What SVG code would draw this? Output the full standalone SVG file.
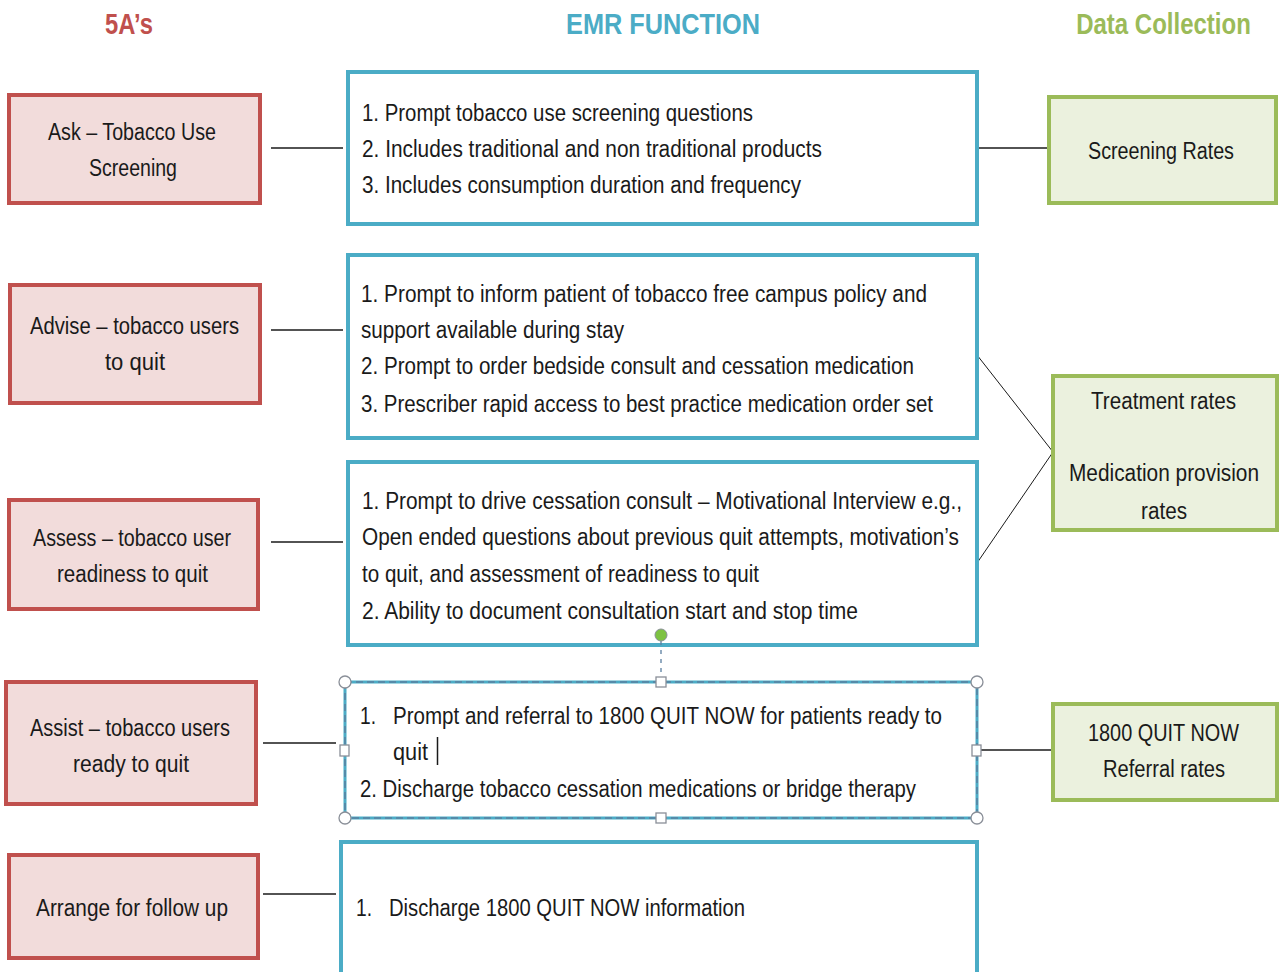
<svg xmlns="http://www.w3.org/2000/svg" width="1282" height="972" viewBox="0 0 1282 972">
<style>
.red{fill:#F2DCDB;stroke:#C0504D;stroke-width:4}
.blue{fill:#FFFFFF;stroke:#4BACC6;stroke-width:4}
.green{fill:#EBF1DE;stroke:#9BBB59;stroke-width:4}
.t{font-family:"Liberation Sans",Arial,sans-serif;font-size:23px;fill:#1a1a1a}
.h{font-family:"Liberation Sans",Arial,sans-serif;font-size:30px;font-weight:bold}
.c line{stroke:#1a1a1a;stroke-width:1.5}
.hdl{fill:#FFFFFF;stroke:#8a8f98;stroke-width:1.3}
</style>
<rect width="1282" height="972" fill="#FFFFFF"/>
<g id="headings">
<text class="h" x="105" y="34" fill="#C0504D" textLength="48" lengthAdjust="spacingAndGlyphs">5A’s</text>
<text class="h" x="566" y="34" fill="#4BACC6" textLength="194" lengthAdjust="spacingAndGlyphs">EMR FUNCTION</text>
<text class="h" transform="translate(1163.5,34) scale(0.8,1)" x="0" y="0" fill="#9BBB59" text-anchor="middle">Data Collection</text>
</g>
<g id="connectors" class="c">
<line x1="271" y1="148" x2="343" y2="148"/>
<line x1="271" y1="330" x2="343" y2="330"/>
<line x1="271" y1="542" x2="343" y2="542"/>
<line x1="263" y1="743" x2="336" y2="743"/>
<line x1="263" y1="894" x2="336" y2="894"/>
<line x1="977" y1="148" x2="1049" y2="148"/>
<line x1="977" y1="355" x2="1053" y2="452" style="stroke-width:1"/>
<line x1="977" y1="563" x2="1053" y2="452" style="stroke-width:1"/>
<line x1="977" y1="750" x2="1053" y2="750"/>
</g>
<g id="ask">
<rect class="red" x="9" y="95" width="251" height="108"/>
<text class="t" x="48" y="140" textLength="168" lengthAdjust="spacingAndGlyphs">Ask – Tobacco Use</text>
<text class="t" x="89" y="176" textLength="88" lengthAdjust="spacingAndGlyphs">Screening</text>
</g>
<g id="advise">
<rect class="red" x="10" y="285" width="250" height="118"/>
<text class="t" x="30" y="334" textLength="209" lengthAdjust="spacingAndGlyphs">Advise – tobacco users</text>
<text class="t" x="105" y="370" textLength="60" lengthAdjust="spacingAndGlyphs">to quit</text>
</g>
<g id="assess">
<rect class="red" x="9" y="500" width="249" height="109"/>
<text class="t" x="33" y="546" textLength="198" lengthAdjust="spacingAndGlyphs">Assess – tobacco user</text>
<text class="t" x="57" y="582" textLength="151" lengthAdjust="spacingAndGlyphs">readiness to quit</text>
</g>
<g id="assist">
<rect class="red" x="6" y="682" width="250" height="122"/>
<text class="t" x="30" y="736" textLength="200" lengthAdjust="spacingAndGlyphs">Assist – tobacco users</text>
<text class="t" x="73" y="772" textLength="116" lengthAdjust="spacingAndGlyphs">ready to quit</text>
</g>
<g id="arrange">
<rect class="red" x="9" y="855" width="249" height="103"/>
<text class="t" x="36" y="916" textLength="192" lengthAdjust="spacingAndGlyphs">Arrange for follow up</text>
</g>
<g id="emr1">
<rect class="blue" x="348" y="72" width="629" height="152"/>
<text class="t" x="362" y="121" textLength="391" lengthAdjust="spacingAndGlyphs">1. Prompt  tobacco use screening questions</text>
<text class="t" x="362" y="157" textLength="460" lengthAdjust="spacingAndGlyphs">2. Includes traditional and non traditional products</text>
<text class="t" x="362" y="193" textLength="439" lengthAdjust="spacingAndGlyphs">3. Includes consumption  duration  and frequency</text>
</g>
<g id="emr2">
<rect class="blue" x="348" y="255" width="629" height="183"/>
<text class="t" x="361" y="302" textLength="566" lengthAdjust="spacingAndGlyphs">1. Prompt  to inform patient of tobacco free campus policy and</text>
<text class="t" x="361" y="338" textLength="263" lengthAdjust="spacingAndGlyphs">support available during stay</text>
<text class="t" x="361" y="374" textLength="553" lengthAdjust="spacingAndGlyphs">2. Prompt  to order  bedside consult and cessation medication</text>
<text class="t" x="361" y="412" textLength="572" lengthAdjust="spacingAndGlyphs">3. Prescriber rapid access to best practice medication order set</text>
</g>
<g id="emr3">
<rect class="blue" x="348" y="462" width="629" height="183"/>
<text class="t" x="362" y="509" textLength="600" lengthAdjust="spacingAndGlyphs">1. Prompt  to drive cessation consult – Motivational Interview e.g.,</text>
<text class="t" x="362" y="545" textLength="597" lengthAdjust="spacingAndGlyphs">Open ended questions about previous quit attempts, motivation’s</text>
<text class="t" x="362" y="582" textLength="397" lengthAdjust="spacingAndGlyphs">to quit, and assessment of readiness to quit</text>
<text class="t" x="362" y="619" textLength="496" lengthAdjust="spacingAndGlyphs">2. Ability to document  consultation start and stop time</text>
</g>
<g id="emr4">
<rect x="345" y="682" width="632" height="136" fill="#FFFFFF" stroke="#4BACC6" stroke-width="3"/>
<rect x="345" y="682" width="632" height="136" fill="none" stroke="#5a7fa0" stroke-width="1.5" stroke-dasharray="7,4"/>
<text class="t" x="360" y="724" textLength="16" lengthAdjust="spacingAndGlyphs">1.</text>
<text class="t" x="393" y="724" textLength="549" lengthAdjust="spacingAndGlyphs">Prompt  and referral to 1800 QUIT NOW for patients ready to</text>
<text class="t" x="393" y="760" textLength="35" lengthAdjust="spacingAndGlyphs">quit</text>
<line x1="437.5" y1="737" x2="437.5" y2="765" stroke="#1a1a1a" stroke-width="1.5"/>
<text class="t" x="360" y="797" textLength="556" lengthAdjust="spacingAndGlyphs">2. Discharge tobacco cessation medications or bridge therapy</text>
<line x1="661" y1="641" x2="661" y2="677" stroke="#5a7fa0" stroke-width="1.3" stroke-dasharray="4,5"/>
<circle cx="661" cy="635" r="6" fill="#7DC242" stroke="#8a8f98" stroke-width="1"/>
<circle class="hdl" cx="345" cy="682" r="6"/>
<circle class="hdl" cx="977" cy="682" r="6"/>
<circle class="hdl" cx="345" cy="818" r="6"/>
<circle class="hdl" cx="977" cy="818" r="6"/>
<rect class="hdl" x="656" y="677" width="10" height="10"/>
<rect class="hdl" x="656" y="813" width="10" height="10"/>
<rect class="hdl" x="340" y="745" width="9" height="11"/>
<rect class="hdl" x="972" y="745" width="9" height="11"/>
</g>
<g id="emr5">
<rect class="blue" x="341" y="842" width="636" height="136"/>
<text class="t" x="356" y="916" textLength="16" lengthAdjust="spacingAndGlyphs">1.</text>
<text class="t" x="389" y="916" textLength="356" lengthAdjust="spacingAndGlyphs">Discharge 1800 QUIT NOW information</text>
</g>
<g id="screening">
<rect class="green" x="1049" y="97" width="227" height="106"/>
<text class="t" x="1088" y="159" textLength="146" lengthAdjust="spacingAndGlyphs">Screening Rates</text>
</g>
<g id="treatment">
<rect class="green" x="1053" y="376" width="224" height="154"/>
<text class="t" x="1091" y="409" textLength="145" lengthAdjust="spacingAndGlyphs">Treatment rates</text>
<text class="t" x="1069" y="481" textLength="190" lengthAdjust="spacingAndGlyphs">Medication provision</text>
<text class="t" x="1141" y="519" textLength="46" lengthAdjust="spacingAndGlyphs">rates</text>
</g>
<g id="referral">
<rect class="green" x="1053" y="704" width="224" height="96"/>
<text class="t" x="1088" y="741" textLength="151" lengthAdjust="spacingAndGlyphs">1800 QUIT NOW</text>
<text class="t" x="1103" y="777" textLength="122" lengthAdjust="spacingAndGlyphs">Referral rates</text>
</g>
</svg>
